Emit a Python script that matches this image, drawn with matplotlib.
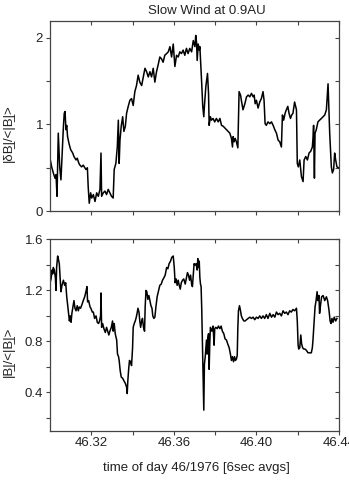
import numpy as np
import matplotlib
matplotlib.use("Agg")
import matplotlib.pyplot as plt
from matplotlib.ticker import FixedLocator

# ------------------------------------------------------------------ #
#  Data (time of day 46/1976)
# ------------------------------------------------------------------ #

t_db = [
    46.3000, 46.3008, 46.3016, 46.3024, 46.3029, 46.3034, 46.3040, 46.3047, 46.3053, 46.3058,
    46.3065, 46.3069, 46.3073, 46.3077, 46.3081, 46.3085, 46.3092, 46.3100, 46.3110, 46.3116,
    46.3126, 46.3132, 46.3140, 46.3145, 46.3153, 46.3161, 46.3169, 46.3174, 46.3181, 46.3185,
    46.3190, 46.3197, 46.3202, 46.3210, 46.3218, 46.3226, 46.3234, 46.3242, 46.3247, 46.3250,
    46.3258, 46.3266, 46.3274, 46.3282, 46.3290, 46.3298, 46.3306, 46.3311, 46.3319, 46.3326,
    46.3331, 46.3335, 46.3339, 46.3345, 46.3352, 46.3358, 46.3365, 46.3371, 46.3379, 46.3387,
    46.3395, 46.3403, 46.3411, 46.3419, 46.3427, 46.3435, 46.3444, 46.3452, 46.3460, 46.3468,
    46.3476, 46.3484, 46.3492, 46.3500, 46.3508, 46.3516, 46.3524, 46.3532, 46.3540, 46.3548,
    46.3556, 46.3565, 46.3573, 46.3581, 46.3589, 46.3597, 46.3605, 46.3613, 46.3621, 46.3629,
    46.3637, 46.3645, 46.3653, 46.3661, 46.3669, 46.3677, 46.3686, 46.3694, 46.3702, 46.3706,
    46.3710, 46.3713, 46.3718, 46.3723, 46.3726, 46.3731, 46.3735, 46.3740, 46.3745, 46.3748,
    46.3755, 46.3763, 46.3768, 46.3771, 46.3777, 46.3782, 46.3790, 46.3798, 46.3806, 46.3815,
    46.3823, 46.3831, 46.3839, 46.3847, 46.3855, 46.3863, 46.3871, 46.3879, 46.3884, 46.3887,
    46.3892, 46.3897, 46.3903, 46.3910, 46.3913, 46.3916, 46.3923, 46.3927, 46.3935, 46.3944,
    46.3952, 46.3960, 46.3968, 46.3976, 46.3984, 46.3989, 46.3994, 46.4000, 46.4008, 46.4016,
    46.4024, 46.4032, 46.4037, 46.4042, 46.4048, 46.4056, 46.4065, 46.4073, 46.4081, 46.4089,
    46.4097, 46.4105, 46.4113, 46.4121, 46.4126, 46.4132, 46.4139, 46.4145, 46.4152, 46.4158,
    46.4165, 46.4171, 46.4177, 46.4185, 46.4194, 46.4198, 46.4203, 46.4210, 46.4218, 46.4226,
    46.4231, 46.4239, 46.4247, 46.4255, 46.4263, 46.4271, 46.4274, 46.4277, 46.4281, 46.4284,
    46.4290, 46.4298, 46.4306, 46.4315, 46.4323, 46.4331, 46.4339, 46.4347, 46.4355, 46.4363,
    46.4368, 46.4374, 46.4379, 46.4384, 46.4390, 46.4398,
]
db_ratio = [
    0.61, 0.51, 0.44, 0.38, 0.42, 0.17, 0.90, 0.51, 0.36, 0.63,
    0.98, 1.13, 1.15, 0.94, 0.99, 0.86, 0.78, 0.71, 0.67, 0.63,
    0.59, 0.61, 0.55, 0.53, 0.51, 0.53, 0.50, 0.48, 0.50, 0.28,
    0.09, 0.21, 0.15, 0.19, 0.11, 0.21, 0.17, 0.25, 0.67, 0.17,
    0.21, 0.23, 0.19, 0.25, 0.21, 0.17, 0.15, 0.48, 0.55, 0.74,
    1.05, 0.55, 0.82, 0.98, 1.09, 0.92, 0.98, 1.13, 1.21, 1.28,
    1.30, 1.22, 1.38, 1.45, 1.57, 1.49, 1.45, 1.55, 1.65, 1.61,
    1.55, 1.61, 1.55, 1.65, 1.49, 1.61, 1.69, 1.78, 1.76, 1.72,
    1.80, 1.82, 1.84, 1.90, 1.78, 1.93, 1.67, 1.80, 1.78, 1.84,
    1.82, 1.86, 1.80, 1.88, 1.82, 1.88, 1.84, 1.97, 1.90, 2.03,
    1.95, 1.74, 1.93, 1.86, 1.90, 1.67, 1.47, 1.21, 1.09, 1.21,
    1.44, 1.59, 1.36, 0.99, 1.09, 1.05, 1.07, 1.03, 1.07, 1.03,
    1.07, 0.99, 0.98, 0.96, 0.94, 0.92, 0.90, 0.84, 0.74, 0.86,
    0.80, 0.84, 0.80, 0.73, 1.05, 1.38, 1.34, 1.28, 1.17, 1.24,
    1.32, 1.34, 1.32, 1.36, 1.32, 1.34, 1.24, 1.28, 1.19, 1.26,
    1.30, 1.38, 1.28, 1.01, 0.99, 1.03, 1.01, 1.03, 0.99, 0.94,
    0.90, 0.82, 0.80, 0.74, 1.11, 1.05, 1.13, 1.17, 1.21, 1.13,
    1.07, 1.11, 1.13, 1.26, 1.17, 0.55, 0.51, 0.59, 0.40, 0.34,
    0.59, 0.63, 0.59, 0.67, 0.69, 0.74, 0.84, 0.99, 0.38, 0.90,
    0.94, 1.03, 1.05, 1.07, 1.09, 1.11, 1.17, 1.47, 0.90, 0.51,
    0.44, 0.48, 0.67, 0.59, 0.51, 0.50,
]

t_b = [
    46.3000, 46.3005, 46.3010, 46.3013, 46.3016, 46.3021, 46.3026, 46.3029, 46.3032, 46.3037,
    46.3040, 46.3045, 46.3048, 46.3053, 46.3058, 46.3065, 46.3071, 46.3076, 46.3081, 46.3085,
    46.3089, 46.3094, 46.3098, 46.3102, 46.3106, 46.3111, 46.3116, 46.3121, 46.3126, 46.3132,
    46.3137, 46.3142, 46.3148, 46.3155, 46.3161, 46.3168, 46.3174, 46.3179, 46.3182, 46.3187,
    46.3194, 46.3198, 46.3205, 46.3210, 46.3216, 46.3223, 46.3229, 46.3235, 46.3240, 46.3245,
    46.3247, 46.3250, 46.3255, 46.3261, 46.3268, 46.3274, 46.3281, 46.3285, 46.3290, 46.3297,
    46.3303, 46.3306, 46.3311, 46.3316, 46.3323, 46.3327, 46.3332, 46.3335, 46.3340, 46.3345,
    46.3352, 46.3358, 46.3365, 46.3371, 46.3374, 46.3377, 46.3381, 46.3385, 46.3390, 46.3395,
    46.3400, 46.3403, 46.3408, 46.3413, 46.3418, 46.3423, 46.3426, 46.3431, 46.3435, 46.3439,
    46.3444, 46.3448, 46.3453, 46.3458, 46.3461, 46.3465, 46.3469, 46.3474, 46.3479, 46.3484,
    46.3489, 46.3494, 46.3498, 46.3503, 46.3508, 46.3513, 46.3519, 46.3526, 46.3532, 46.3539,
    46.3545, 46.3552, 46.3558, 46.3565, 46.3571, 46.3577, 46.3584, 46.3590, 46.3597, 46.3602,
    46.3606, 46.3611, 46.3616, 46.3621, 46.3626, 46.3631, 46.3636, 46.3642, 46.3648, 46.3655,
    46.3661, 46.3666, 46.3671, 46.3676, 46.3681, 46.3686, 46.3690, 46.3694, 46.3698, 46.3703,
    46.3708, 46.3713, 46.3716, 46.3719, 46.3723, 46.3726, 46.3729, 46.3732, 46.3735, 46.3739,
    46.3742, 46.3745, 46.3748, 46.3752, 46.3755, 46.3758, 46.3761, 46.3765, 46.3768, 46.3771,
    46.3774, 46.3777, 46.3784, 46.3790, 46.3795, 46.3798, 46.3803, 46.3810, 46.3816, 46.3823,
    46.3829, 46.3835, 46.3842, 46.3848, 46.3855, 46.3861, 46.3868, 46.3874, 46.3879, 46.3884,
    46.3889, 46.3894, 46.3898, 46.3903, 46.3907, 46.3910, 46.3913, 46.3918, 46.3923, 46.3927,
    46.3932, 46.3939, 46.3945, 46.3952, 46.3960, 46.3968, 46.3976, 46.3984, 46.3992, 46.4000,
    46.4008, 46.4016, 46.4024, 46.4032, 46.4040, 46.4048, 46.4056, 46.4065, 46.4073, 46.4081,
    46.4089, 46.4097, 46.4105, 46.4113, 46.4121, 46.4129, 46.4137, 46.4145, 46.4153, 46.4161,
    46.4169, 46.4177, 46.4185, 46.4194, 46.4198, 46.4202, 46.4205, 46.4210, 46.4215, 46.4219,
    46.4224, 46.4229, 46.4235, 46.4242, 46.4250, 46.4258, 46.4266, 46.4271, 46.4274, 46.4279,
    46.4284, 46.4289, 46.4294, 46.4298, 46.4303, 46.4306, 46.4311, 46.4316, 46.4323, 46.4331,
    46.4339, 46.4345, 46.4352, 46.4357, 46.4361, 46.4366, 46.4371, 46.4377, 46.4384, 46.4390,
]
b_ratio = [
    1.26, 1.29, 1.36, 1.33, 1.38, 1.36, 1.30, 1.20, 1.38, 1.47,
    1.45, 1.41, 1.33, 1.19, 1.24, 1.28, 1.24, 1.26, 1.15, 1.09,
    1.03, 0.96, 1.00, 0.95, 1.02, 1.07, 1.12, 1.06, 1.04, 1.08,
    1.04, 1.07, 1.06, 1.09, 1.12, 1.15, 1.19, 1.23, 1.11, 1.12,
    1.07, 1.06, 1.03, 1.03, 0.98, 1.00, 0.95, 0.94, 0.96, 1.00,
    1.18, 0.91, 0.94, 0.90, 0.87, 0.91, 0.87, 0.85, 0.88, 0.91,
    0.96, 0.88, 0.94, 0.86, 0.81, 0.70, 0.68, 0.65, 0.57, 0.52,
    0.51, 0.49, 0.47, 0.44, 0.39, 0.49, 0.58, 0.65, 0.64, 0.61,
    0.75, 0.91, 0.94, 0.96, 0.99, 1.03, 1.06, 1.03, 0.96, 0.91,
    0.96, 0.98, 0.91, 0.88, 1.07, 1.20, 1.19, 1.13, 1.16, 1.12,
    1.08, 1.06, 1.00, 0.98, 0.99, 1.07, 1.15, 1.20, 1.24, 1.25,
    1.28, 1.30, 1.32, 1.38, 1.37, 1.41, 1.43, 1.46, 1.47, 1.38,
    1.26, 1.29, 1.24, 1.28, 1.24, 1.21, 1.26, 1.28, 1.29, 1.25,
    1.30, 1.34, 1.32, 1.28, 1.32, 1.25, 1.23, 1.32, 1.41, 1.40,
    1.41, 1.36, 1.45, 1.38, 1.43, 1.30, 1.25, 1.23, 1.06, 0.73,
    0.52, 0.26, 0.62, 0.68, 0.75, 0.81, 0.70, 0.83, 0.86, 0.58,
    0.78, 0.91, 0.88, 0.92, 0.77, 0.90, 0.91, 0.90, 0.92, 0.90,
    0.92, 0.88, 0.86, 0.82, 0.81, 0.78, 0.75, 0.70, 0.65, 0.68,
    0.64, 0.68, 0.65, 0.66, 0.69, 0.91, 1.04, 1.08, 1.04, 1.00,
    0.98, 0.96, 0.96, 0.97, 0.98, 0.99, 0.98, 0.99, 0.97, 0.99,
    0.98, 1.00, 0.98, 1.00, 0.98, 1.01, 0.98, 1.02, 0.99, 1.01,
    0.99, 1.03, 1.01, 1.02, 1.00, 1.04, 1.02, 1.03, 1.01, 1.04,
    1.03, 1.05, 1.04, 1.06, 0.96, 0.77, 0.74, 0.75, 0.85, 0.78,
    0.75, 0.74, 0.74, 0.73, 0.71, 0.71, 0.71, 0.75, 0.81, 0.94,
    1.07, 1.12, 1.19, 1.12, 1.16, 1.02, 1.09, 1.15, 1.16, 1.12,
    1.15, 1.12, 1.04, 0.96, 0.94, 0.98, 0.95, 0.99, 0.96, 0.98,
]

x_major = [46.32, 46.36, 46.40, 46.44]
x_minor = [46.34, 46.38, 46.42]
x_labels = ["46.32", "46.36", "46.40", "46.44"]

TITLE  = "Slow Wind at 0.9AU"
XLABEL = "time of day 46/1976 [6sec avgs]"
UL = "\u0332"  # combining low line -> underlined B
YLABEL_TOP = "|\u03b4B" + UL + "|/<|B" + UL + "|>"
YLABEL_BOT = "|B" + UL + "|/<|B" + UL + "|>"

# ------------------------------------------------------------------ #
#  Style
# ------------------------------------------------------------------ #

plt.rcParams["font.family"] = ["Liberation Sans", "DejaVu Sans"]
INK = "#222222"
FS = 9.5
TICK_LEN = 3.0
LW = 1.1


def style_axes(ax, ymajor, yminor, ylabels, show_xlabels):
    for sp in ax.spines.values():
        sp.set_color("#444444")
        sp.set_linewidth(0.9)
    ax.set_xlim(46.30, 46.44)
    ax.xaxis.set_major_locator(FixedLocator(x_major))
    ax.xaxis.set_minor_locator(FixedLocator(x_minor))
    ax.yaxis.set_major_locator(FixedLocator(ymajor))
    ax.yaxis.set_minor_locator(FixedLocator(yminor))
    ax.set_yticklabels(ylabels)
    if show_xlabels:
        ax.set_xticklabels(x_labels)
    else:
        ax.set_xticklabels([])
    ax.tick_params(which="both", direction="out", length=TICK_LEN, width=0.8,
                   color="#444444", labelsize=FS, labelcolor=INK, pad=2)

    # top / right ticks point inwards
    top = ax.secondary_xaxis("top")
    top.xaxis.set_major_locator(FixedLocator(x_major))
    top.xaxis.set_minor_locator(FixedLocator(x_minor))
    top.tick_params(which="both", direction="in", length=TICK_LEN, width=0.8,
                    color="#444444", labeltop=False)
    top.spines["top"].set_visible(False)
    right = ax.secondary_yaxis("right")
    right.yaxis.set_major_locator(FixedLocator(ymajor))
    right.yaxis.set_minor_locator(FixedLocator(yminor))
    right.tick_params(which="both", direction="in", length=TICK_LEN, width=0.8,
                      color="#444444", labelright=False)
    right.spines["right"].set_visible(False)


fig = plt.figure(figsize=(3.49, 4.80), dpi=100)
ax1 = fig.add_axes([0.1433, 0.5604, 0.828, 0.3965])
ax2 = fig.add_axes([0.1433, 0.1031, 0.828, 0.398])

ax1.plot(t_db, db_ratio, color="black", linewidth=LW)
ax1.set_ylim(0, 2.2)
style_axes(ax1, [0, 1, 2], [0.5, 1.5], ["0", "1", "2"], False)

ax2.plot(t_b, b_ratio, color="black", linewidth=LW)
ax2.set_ylim(0.1, 1.6)
style_axes(ax2, [0.4, 0.8, 1.2, 1.6], [0.2, 0.6, 1.0, 1.4],
           ["0.4", "0.8", "1.2", "1.6"], True)

ax1.set_ylabel(YLABEL_TOP, fontsize=FS, color=INK)
ax1.yaxis.set_label_coords(-0.121, 0.41)
ax2.set_ylabel(YLABEL_BOT, fontsize=FS, color=INK)
ax2.yaxis.set_label_coords(-0.121, 0.41)

fig.text(207 / 349, 1 - 14 / 480, TITLE, ha="center", va="baseline",
         fontsize=FS, color=INK)
fig.text(196.7 / 349, 1 - 468 / 480, XLABEL, ha="center", va="center",
         fontsize=FS, color=INK)

fig.savefig("out.png", dpi=100)
